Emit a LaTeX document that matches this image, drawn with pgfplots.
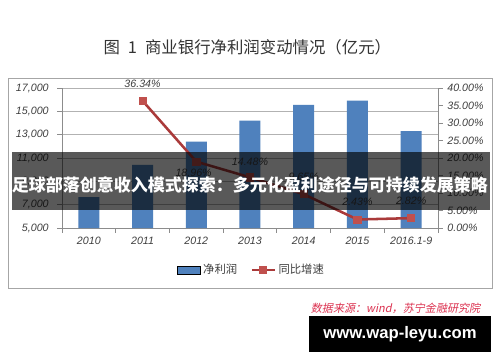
\documentclass[border=0pt]{standalone}
\usepackage{pgfplots}
\pgfplotsset{compat=1.18}
\usepackage{fontspec}
\setmainfont{Liberation Sans}
\newfontfamily\cjk{Noto Sans CJK SC}
\newfontfamily\cjkit[FakeSlant=0.2]{Noto Sans CJK SC}
\definecolor{barblue}{RGB}{79,129,189}
\definecolor{linered}{RGB}{170,58,58}
\definecolor{markred}{RGB}{192,80,77}
\definecolor{srcred}{RGB}{220,50,80}
\definecolor{txt}{RGB}{64,64,64}
\begin{document}
\begin{tikzpicture}
\fill[white] (0,0) rectangle (375pt,271.5pt);
\draw[black!35, line width=0.75pt] (6pt,55.5pt) rectangle (369pt,213pt);
\node[font=\cjk\fontsize{12.3}{14}\selectfont, text=black!80] at (185.5pt,236.25pt) {图\hspace{6pt}1\hspace{6pt}商业银行净利润变动情况（亿元）};
\begin{axis}[
  at={(46.5pt,100.5pt)}, anchor=south west, scale only axis,
  width=282pt, height=105pt,
  xmin=-0.5, xmax=6.5, ymin=5000, ymax=17000,
  ytick={5000,7000,...,17000},
  scaled y ticks=false,
  xtick={0,...,6},
  xticklabels={2010,2011,2012,2013,2014,2015,2016.1-9},
  minor xtick={-0.5,0.5,...,6.5},
  x tick style={draw=none},
  minor x tick style={draw=black!45, line width=0.6pt},
  y tick style={draw=black!45, line width=0.6pt},
  major tick length=3.5pt, minor tick length=3.5pt,
  tick align=outside,
  axis x line*=bottom, axis y line*=left,
  axis line style={black!45, line width=0.6pt},
  ymajorgrids, grid style={black!30, line width=0.6pt},
  /pgf/number format/assume math mode=true,
  /pgf/number format/1000 sep={,},
  tick label style={font=\itshape\fontsize{8}{9}\selectfont, text=txt},
  yticklabel style={xshift=-3pt},
  ybar, bar width=15.75pt,
]
\addplot[fill=barblue, draw=none] coordinates {(0,7650) (1,10420) (2,12400) (3,14200) (4,15548) (5,15926) (6,13300)};
\end{axis}
\begin{axis}[
  at={(46.5pt,100.5pt)}, anchor=south west, scale only axis,
  width=282pt, height=105pt,
  xmin=-0.5, xmax=6.5, ymin=0, ymax=40,
  ytick={0,5,...,40},
  yticklabel={\pgfmathprintnumber[fixed,fixed zerofill,precision=2]{\tick}\%},
  axis y line*=right, axis x line=none,
  axis line style={black!45, line width=0.6pt},
  y tick style={draw=black!45, line width=0.6pt},
  major tick length=3.5pt, tick align=outside,
  /pgf/number format/assume math mode=true,
  tick label style={font=\itshape\fontsize{8}{9}\selectfont, text=txt},
  clip=false,
  legend style={at={(0.505,-0.30)}, anchor=center, draw=none, fill=none,
    legend columns=2, font=\cjk\fontsize{8.5}{10}\selectfont, text=txt,
    /tikz/every even column/.append style={column sep=8pt}},
]
\addlegendimage{area legend, fill=barblue, draw=none}
\addlegendentry{净利润}
\addplot[linered, line width=1.9pt, mark=square*, mark size=2.7pt, mark options={fill=markred, draw=markred, solid, line width=0.5pt}]
  coordinates {(1,36.34) (2,18.96) (3,14.48) (4,9.65) (5,2.43) (6,2.82)};
\addlegendentry{同比增速}
\tikzset{lbl/.style={font=\itshape\fontsize{8}{9}\selectfont, text=txt}}
\node[lbl] at (axis cs:1,41.1) {36.34\%};
\node[lbl] at (axis cs:1.95,15.7) {18.96\%};
\node[lbl] at (axis cs:3,18.9) {14.48\%};
\node[lbl] at (axis cs:4,14.6) {9.65\%};
\node[lbl] at (axis cs:5,7.4) {2.43\%};
\node[lbl] at (axis cs:6,7.7) {2.82\%};
\end{axis}
\fill[black, opacity=0.65] (9pt,114pt) rectangle (367.5pt,157.5pt);
\node[text=white, font=\cjk\bfseries\fontsize{12.75}{14}\selectfont] at (187.5pt,132.75pt) {足球部落创意收入模式探索：多元化盈利途径与可持续发展策略};
\node[anchor=east, text=srcred, font=\cjkit\fontsize{8.3}{10}\selectfont] at (363.75pt,40.5pt) {数据来源：wind，苏宁金融研究院};
\fill[black] (231.75pt,7.5pt) rectangle (368.25pt,34.5pt);
\node[text=white, font=\bfseries\fontsize{12.5}{14}\selectfont] at (300pt,21pt) {www.wap-leyu.com};
\end{tikzpicture}
\end{document}
